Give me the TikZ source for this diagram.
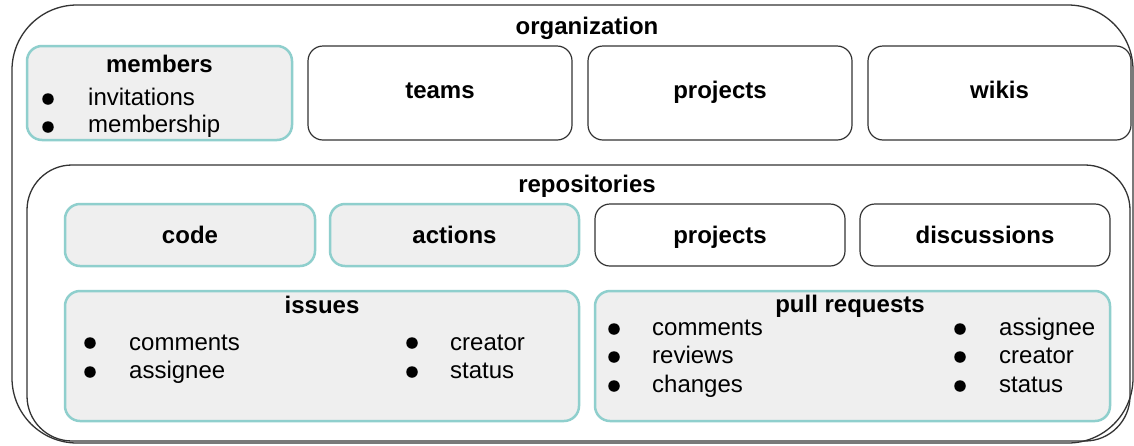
\documentclass[tikz,border=0pt]{standalone}
\usepackage{fontspec}
\setmainfont{Liberation Sans}
\usetikzlibrary{fit}
\definecolor{tealedge}{HTML}{8FCFCD}
\definecolor{boxfill}{HTML}{EFEFEF}
\definecolor{darkedge}{HTML}{333333}
\begin{document}
\begin{tikzpicture}[x=1pt,y=-1pt,
  container/.style={draw=darkedge, line width=1.3pt, inner sep=0pt},
  plainbox/.style={draw=darkedge, line width=1.2pt, fill=white, rounded corners=15pt, inner sep=0pt},
  tealbox/.style={draw=tealedge, line width=2.5pt, fill=boxfill, rounded corners=15pt, inner sep=0pt},
  title/.style={font=\fontsize{24}{28}\selectfont\bfseries, anchor=base, inner sep=0pt},
  item/.style={font=\fontsize{24}{28}\selectfont, anchor=base west, inner sep=0pt},
  dot/.style={circle, fill=black, inner sep=0pt, minimum size=11.5pt},
]
\useasboundingbox (0,0) rectangle (1134,445);
\fill[white] (0,0) rectangle (1134,445);

% containers
\node[container, rounded corners=65pt, fit={(12,5) (1133,443)}] (org) {};
\node[container, rounded corners=45pt, fit={(27,165) (1130,441)}] (repo) {};
\node[title] (orgt) at (587,34) {organization};
\node[title] (repot) at (587,192) {repositories};

% organization row
\node[tealbox, fit={(27,46) (292,140)}] (members) {};
\node[plainbox, fit={(308,46) (572,140)}] (teams) {};
\node[plainbox, fit={(588,46) (852,140)}] (oprojects) {};
\node[plainbox, fit={(868,46) (1131,140)}] (wikis) {};
\node[title] (memberst) at (159.5,72) {members};
\node[dot] (mb1) at (48,99) {};
\node[dot] (mb2) at (48,127) {};
\node[item] (mi1) at (88,105) {invitations};
\node[item] (mi2) at (88,132) {membership};
\node[title] (teamst) at (teams.center) [yshift=-5pt] {teams};
\node[title] (oprojectst) at (oprojects.center) [yshift=-5pt] {projects};
\node[title] (wikist) at (wikis.center) [yshift=-5pt] {wikis};

% repositories row 1
\node[tealbox, fit={(65,204) (315,266)}] (code) {};
\node[tealbox, fit={(330,204) (579,266)}] (actions) {};
\node[plainbox, fit={(595,204) (845,266)}] (rprojects) {};
\node[plainbox, fit={(860,204) (1110,266)}] (discussions) {};
\node[title] (codet) at (190,243) {code};
\node[title] (actionst) at (454.5,243) {actions};
\node[title] (rprojectst) at (720,243) {projects};
\node[title] (discussionst) at (985,243) {discussions};

% issues
\node[tealbox, fit={(65,291) (579,421)}] (issues) {};
\node[title] (issuest) at (322,313) {issues};
\node[dot] (ib1) at (90,343) {};
\node[dot] (ib2) at (90,372) {};
\node[dot] (ib3) at (412,343) {};
\node[dot] (ib4) at (412,372) {};
\node[item] (ii1) at (129,350) {comments};
\node[item] (ii2) at (129,378) {assignee};
\node[item] (ii3) at (450,350) {creator};
\node[item] (ii4) at (450,378) {status};

% pull requests
\node[tealbox, fit={(595,291) (1110,421)}] (prs) {};
\node[title] (prst) at (850,312) {pull requests};
\node[dot] (pb1) at (614,329) {};
\node[dot] (pb2) at (614,357) {};
\node[dot] (pb3) at (614,386) {};
\node[dot] (pb4) at (960,329) {};
\node[dot] (pb5) at (960,357) {};
\node[dot] (pb6) at (960,386) {};
\node[item] (pi1) at (652,335) {comments};
\node[item] (pi2) at (652,363) {reviews};
\node[item] (pi3) at (652,392) {changes};
\node[item] (pi4) at (999,335) {assignee};
\node[item] (pi5) at (999,363) {creator};
\node[item] (pi6) at (999,392) {status};
\end{tikzpicture}
\end{document}
